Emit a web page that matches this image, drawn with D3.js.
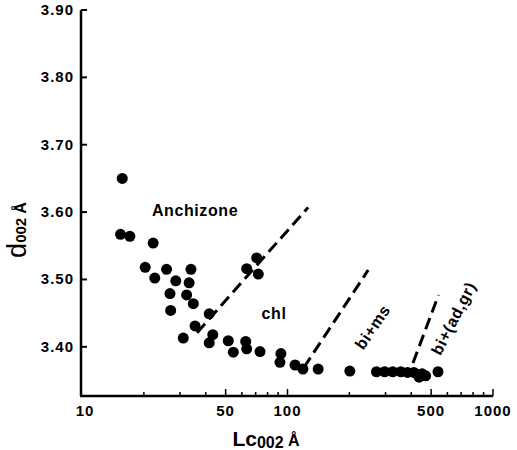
<!DOCTYPE html>
<html lang="en">
<head>
  <meta charset="UTF-8">
  <title>d002 vs Lc002</title>
  <script src="https://d3js.org/d3.v7.min.js"></script>
  <style>
    body { margin: 0; background: #fff; }
    svg text { font-family: "Liberation Sans", Arial, sans-serif; font-weight: bold; fill: #000; }
    .tick-label { font-size: 15px; letter-spacing: 1px; }
    .note { font-size: 16px; letter-spacing: 0.6px; }
  </style>
</head>
<body>
  <svg width="517" height="450"></svg>

  <script>
    // crystallite size Lc002 (Å) and spacing d002 (Å)
    const lc = [15.7, 15.4, 17.1, 22.2, 20.3, 25.8, 33.9, 22.6, 28.6, 33.2,
                26.8, 32.3, 34.8, 27.0, 41.6, 35.5, 31.1, 43.3, 41.6, 51.5,
                54.5, 62.6, 63.3, 73.5, 63.3, 70.8, 72.1, 92.9, 91.9, 108.8,
                118.9, 141, 201, 271, 297, 325, 356, 384, 412, 430, 437, 452, 470, 540];
    const d002 = [3.650, 3.567, 3.564, 3.554, 3.518, 3.515, 3.515, 3.502, 3.498, 3.495,
                  3.479, 3.477, 3.464, 3.454, 3.449, 3.431, 3.413, 3.418, 3.406, 3.409,
                  3.392, 3.408, 3.397, 3.393, 3.516, 3.532, 3.508, 3.390, 3.377, 3.373,
                  3.367, 3.367, 3.364, 3.363, 3.363, 3.363, 3.363, 3.362, 3.362, 3.359, 3.355, 3.360, 3.357, 3.363];

    // zone boundaries (dashed), as [Lc, d002] end points
    const boundAnchChl = [[36.3, 3.421], [126, 3.607]];
    const boundChlBi = [[120, 3.369], [247, 3.514]];
    const boundBiAd = [[408, 3.376], [543, 3.477]];

    const yTicks = [3.40, 3.50, 3.60, 3.70, 3.80, 3.90];
    const xTickLabels = [10, 50, 100, 500, 1000];
    const xMinor = [20, 30, 40, 60, 70, 80, 90, 200, 300, 400, 600, 700, 800, 900];

    const svg = d3.select("svg");

    const x = d3.scaleLog().domain([10, 1000]).range([82, 493]);
    const y = d3.scaleLinear().domain([3.327, 3.90]).range([396, 10]);

    // axes
    const axisStroke = 2.5;
    svg.append("line")
      .attr("x1", x(10) - 1).attr("x2", x(10) - 1)
      .attr("y1", y(3.90)).attr("y2", y.range()[0])
      .attr("stroke", "#000").attr("stroke-width", axisStroke);
    svg.append("line")
      .attr("x1", x(10) - 2).attr("x2", x(1000))
      .attr("y1", y.range()[0]).attr("y2", y.range()[0])
      .attr("stroke", "#000").attr("stroke-width", axisStroke);

    // y ticks (inward)
    svg.selectAll(".ytick").data(yTicks).enter().append("line")
      .attr("x1", x(10) - 1).attr("x2", x(10) + 5)
      .attr("y1", d => y(d)).attr("y2", d => y(d))
      .attr("stroke", "#000").attr("stroke-width", 2);
    svg.selectAll(".ylab").data(yTicks).enter().append("text")
      .attr("class", "tick-label")
      .attr("x", 74).attr("y", d => y(d) + 5)
      .attr("text-anchor", "end")
      .text(d => d.toFixed(2));

    // x ticks (inward)
    const yb = y.range()[0];
    svg.selectAll(".xminor").data(xMinor).enter().append("line")
      .attr("x1", d => x(d)).attr("x2", d => x(d))
      .attr("y1", yb).attr("y2", yb - 4)
      .attr("stroke", "#000").attr("stroke-width", 1.5);
    svg.selectAll(".xmajor").data(xTickLabels.slice(1)).enter().append("line")
      .attr("x1", d => x(d)).attr("x2", d => x(d))
      .attr("y1", yb).attr("y2", yb - 7)
      .attr("stroke", "#000").attr("stroke-width", 1.5);
    svg.selectAll(".xlab").data(xTickLabels).enter().append("text")
      .attr("class", "tick-label")
      .attr("x", d => x(d) + (d === 10 ? 3 : 0)).attr("y", 416)
      .attr("text-anchor", "middle")
      .text(d => d);

    // boundaries
    const line = d3.line().x(d => x(d[0])).y(d => y(d[1]));
    [boundAnchChl, boundChlBi, boundBiAd].forEach(b => {
      svg.append("path")
        .attr("d", line(b))
        .attr("fill", "none").attr("stroke", "#000")
        .attr("stroke-width", 3).attr("stroke-dasharray", "12,6");
    });

    // points
    svg.selectAll(".pt").data(lc).enter().append("circle")
      .attr("cx", d => x(d))
      .attr("cy", (d, i) => y(d002[i]))
      .attr("r", 5.5)
      .attr("fill", "#000");

    // zone labels
    svg.append("text").attr("class", "note")
      .attr("x", x(35.5)).attr("y", y(3.594)).attr("text-anchor", "middle")
      .text("Anchizone");
    svg.append("text").attr("class", "note")
      .attr("x", x(86)).attr("y", y(3.442)).attr("text-anchor", "middle")
      .text("chl");
    svg.append("text").attr("class", "note")
      .attr("transform", `translate(${x(234)},${y(3.394)}) rotate(-56)`)
      .text("bi+ms");
    svg.append("text").attr("class", "note")
      .attr("transform", `translate(${x(555)},${y(3.386)}) rotate(-63)`)
      .text("bi+(ad,gr)");

    // axis titles
    const yt = svg.append("text")
      .attr("transform", "translate(26,230) rotate(-90)")
      .attr("text-anchor", "middle");
    yt.append("tspan").attr("font-size", 27).attr("font-weight", "normal").text("d");
    yt.append("tspan").attr("font-size", 15).text("002 ");
    yt.append("tspan").attr("font-size", 16).text("Å");

    const xt = svg.append("text")
      .attr("x", 266).attr("y", 446)
      .attr("text-anchor", "middle");
    xt.append("tspan").attr("font-size", 21).text("Lc");
    xt.append("tspan").attr("font-size", 16).attr("dy", 2).text("002 ");
    xt.append("tspan").attr("font-size", 16).attr("dy", -2).text("Å");
  </script>
</body>
</html>
